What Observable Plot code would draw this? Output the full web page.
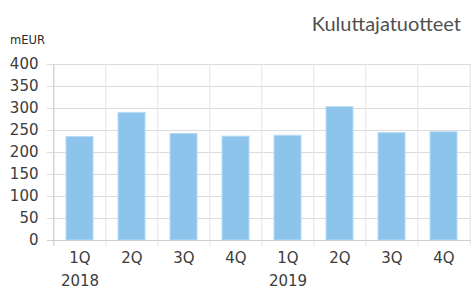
<!DOCTYPE html>
<html>
<head>
<meta charset="utf-8">
<script src="https://cdn.jsdelivr.net/npm/d3@7"></script>
<script src="https://cdn.jsdelivr.net/npm/@observablehq/plot@0.6"></script>
<style>
  html, body { margin: 0; padding: 0; background: #fff; }
  #wrap { position: relative; width: 475px; height: 291px; font-family: "DejaVu Sans", sans-serif; }
  #title { position: absolute; right: 14px; top: 11px; font-family: "Lato", sans-serif; font-weight: 400; font-size: 20px; color: #505050; white-space: nowrap; }
  #unit { position: absolute; left: 10px; top: 33px; font-size: 11.5px; color: #2a2a2a; }
</style>
</head>
<body>
<div id="wrap">
  <div id="title">Kuluttajatuotteet</div>
  <div id="unit">mEUR</div>
</div>
<script>
const quarters = ["1Q", "2Q", "3Q", "4Q", "1Q", "2Q", "3Q", "4Q"];
const years = ["2018", "", "", "", "2019", "", "", ""];
const values = [235, 290, 242, 236, 238, 303, 244, 246];
const yTicks = [0, 50, 100, 150, 200, 250, 300, 350, 400];

const keys = quarters.map((q, i) => i);
const data = keys.map(i => ({key: i, value: values[i]}));
const labelOf = i => years[i] ? quarters[i] + "\n" + years[i] : quarters[i];

const W = 475, H = 291, mL = 52, mR = 4, mT = 64, mB = 51;
const step = (W - mL - mR) / keys.length;

const chart = Plot.plot({
  width: W,
  height: H,
  marginLeft: mL,
  marginRight: mR,
  marginTop: mT,
  marginBottom: mB,
  style: {fontFamily: "DejaVu Sans, sans-serif", fontSize: "14px", color: "#3c3c3c", background: "transparent"},
  x: {domain: keys, paddingInner: 0.48, paddingOuter: 0.24, label: null},
  y: {domain: [0, 400], label: null},
  marks: [
    Plot.ruleY(yTicks, {stroke: "#dcdcdc", strokeWidth: 1, insetLeft: -5}),
    Plot.ruleX(keys, {dx: -step / 2, stroke: "#e2e2e2", y1: 400, y2: 0, insetBottom: -6}),
    Plot.ruleX([keys[keys.length - 1]], {dx: step / 2, stroke: "#e2e2e2", y1: 400, y2: 0, insetBottom: -6}),
    Plot.barY(data, {x: "key", y: "value", fill: "#8dc4ec", stroke: "#b5dbf5", strokeWidth: 1}),
    Plot.ruleX([keys[0]], {dx: -step / 2, stroke: "#cfcfcf", y1: 400, y2: 0, insetBottom: -6}),
    Plot.ruleY([0], {stroke: "#cfcfcf", insetLeft: -5}),
    Plot.axisY({ticks: yTicks, tickSize: 0, tickPadding: 14, fontSize: 15, fill: "#3c3c3c"}),
    Plot.axisX({tickSize: 0, tickPadding: 7, tickFormat: labelOf, fontSize: 15, lineHeight: 1.5, fill: "#3c3c3c"})
  ]
});
document.getElementById("wrap").prepend(chart);
chart.style.position = "absolute";
chart.style.left = "0";
chart.style.top = "0";
</script>
</body>
</html>
